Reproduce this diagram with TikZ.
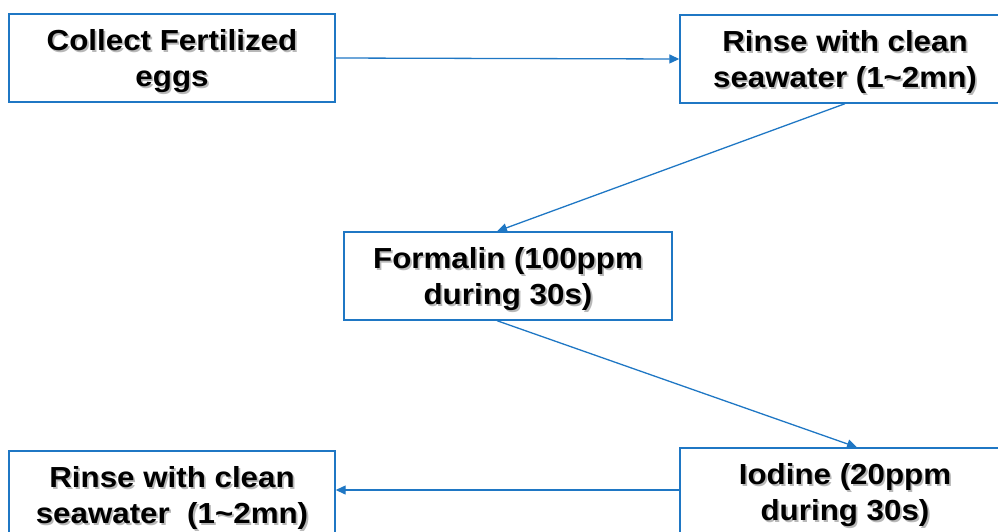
\documentclass[tikz,border=0pt]{standalone}
\usepackage{fontspec}
\setmainfont{Liberation Sans}[FakeStretch=1.08]
\usetikzlibrary{arrows.meta}
\definecolor{lineblue}{RGB}{31,119,196}
\begin{document}
\begin{tikzpicture}[
  x=1pt, y=-1pt,
  stepbox/.style={draw=lineblue, line width=1.4pt, fill=none,
                  minimum width=326pt, minimum height=88pt,
                  font=\fontsize{29}{36}\selectfont\bfseries,
                  align=center, inner sep=0pt, text depth=0pt},
  shadowtxt/.style={text=black!28, fill=none,
                    font=\fontsize{29}{36}\selectfont\bfseries,
                    align=center, inner sep=0pt, text depth=0pt},
  arr/.style={-{Triangle[length=10pt,width=9pt]}, lineblue, line width=1.3pt},
]
\useasboundingbox (0,0) rectangle (998,531);

% ---- process steps (with soft text shadow) ---------------------------------
\foreach \nm/\px/\py/\bw/\txt in {
    collect/172/58/326/{Collect Fertilized\\eggs},
    rinseA/845/59/330/{Rinse with clean\\seawater (1\textasciitilde2mn)},
    formalin/508/276/328/{Formalin (100ppm\\during 30s)},
    iodine/845/492/330/{Iodine (20ppm\\during 30s)},
    rinseB/172/495/326/{Rinse with clean\\seawater\ \ (1\textasciitilde2mn)}}
{
  \node[shadowtxt] at (\px+1.8,\py+1.8) {\txt};
  \node[stepbox, minimum width=\bw pt] (\nm) at (\px,\py) {\txt};
}

% ---- connectors ------------------------------------------------------------
\draw[arr] (collect.east) -- (rinseA.west);
\draw[arr] (rinseA.south) -- ([xshift=-11pt]formalin.north);
\draw[arr] ([xshift=-11pt]formalin.south) -- ([xshift=12pt]iodine.north);
\draw[arr] ([yshift=2pt]iodine.west) -- ([yshift=5pt]rinseB.east);

\end{tikzpicture}
\end{document}
